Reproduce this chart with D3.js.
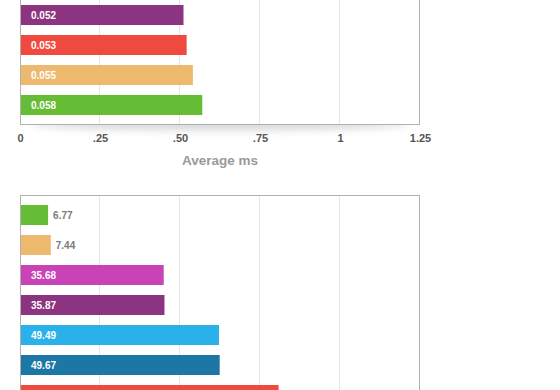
<!DOCTYPE html>
<html>
<head>
<meta charset="utf-8">
<script src="https://cdn.jsdelivr.net/npm/d3@7"></script>
<style>
  html, body { margin: 0; padding: 0; background: #fff; overflow: hidden; }
  svg { display: block; font-family: "Liberation Sans", Arial, Helvetica, sans-serif; }
</style>
</head>
<body>
<div id="chart"></div>
<script>
// top chart (average ms), only the bottom of it is in view
var topValues = [0.052, 0.053, 0.055, 0.058];
var topColors = ['#8c3480', '#f04a40', '#edb96e', '#65bc35'];
var tickValues = [0, 0.25, 0.5, 0.75, 1, 1.25];
var tickLabels = ['0', '.25', '.50', '.75', '1', '1.25'];
var axisTitle = 'Average ms';

// second chart, cut off at the bottom of the window
var bottomValues = [6.77, 7.44, 35.68, 35.87, 49.49, 49.67, 64.4];
var bottomColors = ['#65bc35', '#edb96e', '#c942b6', '#8c3480', '#2ab1ea', '#1d77a4', '#f04a40'];
var bottomGrid = [20, 40, 60, 80];

var width = 560, height = 390;
var left = 20, plotW = 400;

var svg = d3.select('#chart').append('svg')
    .attr('width', width)
    .attr('height', height);

var defs = svg.append('defs');
defs.append('filter').attr('id', 'blur')
    .attr('x', '-20%').attr('y', '-200%').attr('width', '140%').attr('height', '500%')
  .append('feGaussianBlur').attr('stdDeviation', 4);

// Draw one framed bar chart. The frame spans y0..y1.
function drawBars(g, values, colors, xBar, gridScale, gridTicks, y0, y1) {
  var y = d3.scaleBand()
      .domain(d3.range(values.length))
      .range([y0, y1])
      .paddingInner(1 / 3)
      .paddingOuter(1 / 3);

  g.append('rect')
      .attr('x', left + 0.5).attr('y', y0 + 0.5)
      .attr('width', plotW - 1).attr('height', y1 - y0 - 1)
      .attr('fill', '#fff');

  g.selectAll('line.grid').data(gridTicks).enter()
    .append('line').classed('grid', true)
      .attr('x1', function(d) { return Math.round(left + gridScale(d)) - 0.5; })
      .attr('x2', function(d) { return Math.round(left + gridScale(d)) - 0.5; })
      .attr('y1', y0 + 1).attr('y2', y1 - 1)
      .attr('stroke', '#e6e6e6')
      .attr('stroke-width', 1);

  g.selectAll('rect.bar').data(values).enter()
    .append('rect').classed('bar', true)
      .attr('x', left + 1)
      .attr('y', function(d, i) { return y(i); })
      .attr('width', function(d) { return xBar(d); })
      .attr('height', y.bandwidth())
      .attr('fill', function(d, i) { return colors[i]; });

  // labels of bars that run off the bottom of the window are left out
  var shown = values.filter(function(d, i) { return y(i) + y.bandwidth() <= height; });

  g.selectAll('text.val').data(shown).enter()
    .append('text').classed('val', true)
      .attr('x', function(d) {
        var w = xBar(d);
        return w > 40 ? left + 11 : left + 1 + w + 5;
      })
      .attr('y', function(d, i) { return y(i) + y.bandwidth() / 2; })
      .attr('dy', '0.35em')
      .attr('font-size', 10)
      .attr('font-weight', 'bold')
      .attr('fill', function(d) { return xBar(d) > 40 ? '#fff' : '#7a7a7a'; })
      .text(function(d) { return d < 1 ? d3.format('.3f')(d) : d3.format('.2f')(d); });

  g.append('rect')
      .attr('x', left + 0.5).attr('y', y0 + 0.5)
      .attr('width', plotW - 1).attr('height', y1 - y0 - 1)
      .attr('fill', 'none')
      .attr('stroke', '#b0b0b0')
      .attr('stroke-width', 1);
}

// top chart
var axisX = d3.scaleLinear().domain([0, 1.25]).range([0, plotW]);
var topBarX = d3.scaleLinear().domain([0, 0.128]).range([0, plotW]);
var topY0 = -5, topY1 = 125;

var gTop = svg.append('g');
gTop.append('ellipse')
    .attr('cx', left + plotW / 2).attr('cy', topY1 - 1)
    .attr('rx', plotW / 2 - 10).attr('ry', 6)
    .attr('fill', '#000').attr('opacity', 0.16)
    .attr('filter', 'url(#blur)');
drawBars(gTop, topValues, topColors, topBarX, axisX, tickValues.slice(1, 5), topY0, topY1);

var axis = d3.axisBottom(axisX)
    .tickValues(tickValues)
    .tickSize(0)
    .tickPadding(0)
    .tickFormat(function(d, i) { return tickLabels[i]; });

var gAxis = svg.append('g')
    .attr('transform', 'translate(' + left + ',' + 134 + ')')
    .call(axis);
gAxis.select('.domain').remove();
gAxis.selectAll('text')
    .attr('font-family', '"Liberation Sans", Arial, sans-serif')
    .attr('font-size', 11)
    .attr('font-weight', 'bold')
    .attr('fill', '#555');

svg.append('text')
    .attr('x', left + plotW / 2)
    .attr('y', 165)
    .attr('text-anchor', 'middle')
    .attr('font-size', 13.5)
    .attr('font-weight', 'bold')
    .attr('fill', '#9a9a9a')
    .text(axisTitle);

// bottom chart
var bottomX = d3.scaleLinear().domain([0, 100]).range([0, plotW]);
var botY0 = 195, botY1 = 195 + 30 * (bottomValues.length + 1 / 3);
drawBars(svg.append('g'), bottomValues, bottomColors, bottomX, bottomX, bottomGrid, botY0, botY1);
</script>
</body>
</html>
